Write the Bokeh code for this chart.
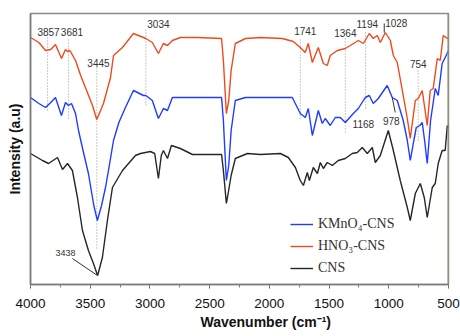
from bokeh.plotting import figure
from bokeh.models import (Range1d, SingleIntervalTicker, FixedTicker, Legend, LegendItem,
                          Title, Span)
from bokeh.core.properties import value
from bokeh.embed import file_html
from bokeh.resources import INLINE

# ---- data (wavenumber in cm-1, intensity in arbitrary units) ----
hno3_wn = [4000, 3930, 3874, 3830, 3791, 3740, 3707, 3690, 3670, 3623, 3580, 3540, 3481, 3445,
           3389, 3330, 3305, 3230, 3138, 3054, 3034, 2980, 2929, 2887, 2853, 2812, 2745, 2600,
           2400, 2385, 2360, 2340, 2320, 2285, 2200, 2075, 1891, 1800, 1741, 1700, 1674, 1640,
           1590, 1548, 1515, 1490, 1431, 1364, 1322, 1255, 1213, 1163, 1130, 1096, 1071, 1029,
           987, 962, 929, 879, 845, 820, 778, 753, 720, 678, 653, 628, 594, 569, 544, 510, 500]
hno3_int = [247, 242, 234, 235, 240, 226, 235, 233, 234, 224, 209, 197, 179, 165,
            181, 207, 229, 237, 251, 247, 246, 242, 231, 241, 239, 244, 247, 247,
            246, 224, 171, 184, 214, 241, 246, 247, 246, 243, 237, 232, 241, 222,
            237, 221, 219, 229, 234, 236, 239, 244, 241, 251, 246, 249, 242, 252,
            244, 229, 222, 189, 166, 146, 184, 186, 194, 159, 194, 196, 226, 224, 249, 246, 247]

kmno4_wn = [4000, 3930, 3874, 3830, 3791, 3741, 3707, 3682, 3657, 3623, 3598, 3560, 3515, 3470,
            3440, 3405, 3372, 3340, 3305, 3260, 3205, 3138, 3054, 3034, 2980, 2929, 2887, 2853,
            2812, 2600, 2400, 2385, 2360, 2340, 2320, 2285, 2200, 1808, 1766, 1741, 1699, 1674,
            1640, 1590, 1557, 1532, 1490, 1448, 1406, 1364, 1297, 1255, 1197, 1163, 1130, 1088,
            1013, 971, 929, 879, 845, 820, 790, 770, 740, 720, 700, 678, 650, 611, 586, 553,
            528, 500]
kmno4_int = [187, 181, 177, 182, 187, 169, 182, 179, 181, 171, 154, 134, 111, 79,
             64, 79, 97, 119, 144, 162, 177, 194, 189, 189, 184, 166, 176, 174,
             187, 187, 187, 164, 104, 119, 154, 184, 187, 187, 177, 171, 167, 176,
             149, 174, 161, 166, 159, 167, 167, 162, 171, 176, 187, 189, 181, 186,
             199, 187, 184, 164, 144, 124, 144, 157, 159, 162, 144, 121, 164, 196, 189, 221,
             227, 234]

cns_wn = [4000, 3900, 3849, 3774, 3732, 3690, 3649, 3607, 3565, 3515, 3473, 3438, 3398, 3356,
          3314, 3230, 3121, 3079, 2996, 2960, 2929, 2905, 2887, 2853, 2820, 2745, 2644, 2400,
          2385, 2360, 2345, 2320, 2285, 2184, 2075, 1908, 1841, 1782, 1741, 1715, 1682, 1665,
          1632, 1598, 1573, 1548, 1515, 1473, 1423, 1364, 1306, 1264, 1222, 1180, 1138, 1113,
          1071, 1004, 962, 904, 845, 820, 778, 736, 703, 678, 636, 611, 586, 553, 528, 510, 500]
cns_int = [131, 124, 121, 127, 115, 121, 114, 87, 54, 34, 21, 9, 27, 64,
           97, 114, 129, 131, 133, 131, 106, 129, 134, 126, 139, 136, 130, 130,
           114, 81, 91, 109, 126, 131, 130, 131, 127, 117, 104, 99, 112, 104,
           117, 111, 122, 116, 122, 119, 124, 126, 131, 132, 137, 131, 137, 122,
           129, 154, 134, 104, 77, 64, 91, 101, 87, 67, 97, 101, 121, 134, 134, 159, 157]

series_names = ["KMnO\u2084-CNS", "HNO\u2083-CNS", "CNS"]
series_colors = ["#1f3cff", "#ee4a1c", "#262626"]

# peak annotations
peak_text = ["3857", "3681", "3445", "3034", "1741", "1364", "1194", "1028", "754", "1168", "978"]
peak_text_wn = [3849, 3653, 3431, 2929, 1699, 1364, 1180, 937, 753, 1213, 979]
peak_text_int = [253, 253, 222, 261, 254, 252, 261, 262, 221, 161, 164]

guide_wn = [3857, 3681, 3445, 3034, 1741, 1364, 1194, 754]
guide_top = [251, 246, 217, 256, 247, 247, 254, 214]
guide_bottom = [174, 166, 36, 179, 166, 152, 176, 144]

leader_x0 = [1038, 971, 3649]
leader_x1 = [1038, 946, 3439]
leader_y0 = [261, 187, 26]
leader_y1 = [252, 172, 9]

main_label = "3438"
main_label_wn = 3707
main_label_int = 32

x_ticks_interval = 500

# ---- figure ----
p = figure(width=460, height=336, output_backend="svg", toolbar_location=None,
           x_range=Range1d(4000, 500), y_range=Range1d(0, 271),
           min_border_left=30, min_border_right=12, min_border_top=13, min_border_bottom=52)
p.background_fill_color = "white"
p.border_fill_color = "white"
p.outline_line_color = "#8a8a8a"
p.outline_line_width = 1.5
p.grid.visible = False

# x axis
xa = p.xaxis[0]
xa.ticker = SingleIntervalTicker(interval=x_ticks_interval, num_minor_ticks=2)
xa.axis_line_color = "#7a7a7a"
xa.axis_line_width = 1.5
xa.major_tick_line_color = "#555555"
xa.minor_tick_line_color = "#6f8f4f"
xa.major_tick_in = 0
xa.major_tick_out = 4
xa.minor_tick_in = 0
xa.minor_tick_out = 3
xa.major_label_text_font = "Liberation Sans"
xa.major_label_text_font_size = "13.5px"
xa.major_label_text_color = "#111111"
xa.major_label_standoff = 10

# y axis
ya = p.yaxis[0]
ya.ticker = FixedTicker(ticks=[])
ya.axis_line_color = "#7a7a7a"
ya.axis_line_width = 1.5
ya.major_tick_line_color = None
ya.minor_tick_line_color = None
ya.major_label_text_font_size = "0px"
ya.major_label_standoff = 0
ya.axis_label = "Intensity (a.u)"
ya.axis_label_text_font = "Liberation Sans"
ya.axis_label_text_font_style = "bold"
ya.axis_label_text_font_size = "14px"
ya.axis_label_text_color = "#111111"
ya.axis_label_standoff = 8

p.add_layout(Span(location=500, dimension="height", line_color="#8aa070", line_width=2))

# guide lines
p.segment(x0=guide_wn, x1=guide_wn, y0=guide_bottom, y1=guide_top,
          line_color="#8c968c", line_width=1, line_dash="1 2")

# curves
r_cns = p.line(cns_wn, cns_int, line_color=series_colors[2], line_width=1.4)
r_k = p.line(kmno4_wn, kmno4_int, line_color=series_colors[0], line_width=1.4)
r_h = p.line(hno3_wn, hno3_int, line_color=series_colors[1], line_width=1.4)

# leader lines
p.segment(x0=leader_x0, x1=leader_x1, y0=leader_y0, y1=leader_y1,
          line_color="#333333", line_width=1)

# peak labels
p.text(x=peak_text_wn, y=peak_text_int, text=peak_text,
       text_font=value("Liberation Sans"), text_font_size="10px",
       text_color="#333333", text_align="center", text_baseline="middle")
p.text(x=[main_label_wn], y=[main_label_int], text=[main_label],
       text_font=value("Liberation Sans"), text_font_size="9px",
       text_color="#333333", text_align="center", text_baseline="middle")

# x-axis title
xt = Title(text="Wavenumber (cm\u207b\u00b9)", align="left", offset=170,
           text_font="Liberation Sans", text_font_style="bold",
           text_font_size="14px", text_color="#111111", standoff=3)
p.add_layout(xt, "below")

legend = Legend(items=[LegendItem(label=series_names[0], renderers=[r_k]),
                       LegendItem(label=series_names[1], renderers=[r_h]),
                       LegendItem(label=series_names[2], renderers=[r_cns])],
                location=(260, 6), orientation="vertical")
legend.border_line_color = None
legend.background_fill_alpha = 0
legend.padding = 0
legend.margin = 0
legend.spacing = 2
legend.glyph_width = 23
legend.glyph_height = 20
legend.label_height = 20
legend.label_standoff = 5
legend.label_text_font = "Liberation Serif"
legend.label_text_font_size = "14px"
legend.label_text_color = "#333333"
p.add_layout(legend)

open("out.html", "w").write(file_html(p, INLINE))
